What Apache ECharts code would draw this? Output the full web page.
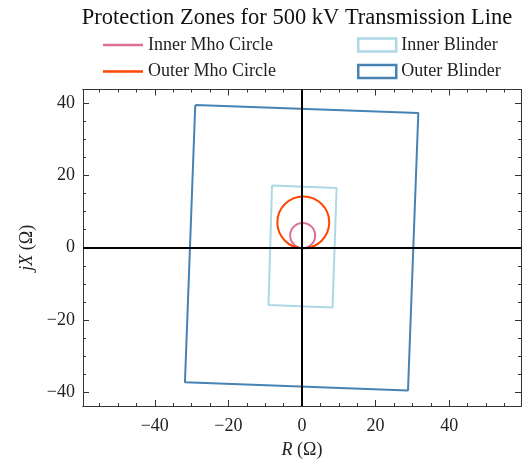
<!DOCTYPE html>
<html>
<head>
<meta charset="utf-8">
<script src="https://cdn.jsdelivr.net/npm/echarts@6/dist/echarts.min.js"></script>
<style>
  html, body { margin: 0; padding: 0; background: #fff; }
  #chart { width: 531px; height: 464px; }
</style>
</head>
<body>
<div id="chart"></div>
<script>
// Mho circles: [centerR, centerX, radius] in ohms (each passes through the origin)
const innerMho = [0.18, 3.4, 3.4];
const outerMho = [0.35, 7.05, 7.05];

// Blinder quadrilaterals, corners in ohms (closed loop)
const innerBlinder = [[-8.15, 17.3], [9.4, 16.6], [8.3, -16.6], [-9.1, -15.9], [-8.15, 17.3]];
const outerBlinder = [[-29.0, 39.6], [31.6, 37.4], [28.8, -39.6], [-31.8, -37.3], [-29.0, 39.6]];

// Axis ticks
const majorTicks = [-40, -20, 0, 20, 40];
const minorTicksX = [-55, -50, -45, -35, -30, -25, -15, -10, -5, 5, 10, 15, 25, 30, 35, 45, 50, 55];
const minorTicksY = [-35, -30, -25, -15, -10, -5, 5, 10, 15, 25, 30, 35];

const xRange = [-59.5, 59.5];
const yRange = [-43.9, 43.9];

const FONT = "'Liberation Serif', 'DejaVu Serif', serif";
const FRAME = '#333';
const COLORS = {
  innerMho: '#db7093',
  outerMho: '#ff4500',
  innerBlinder: '#add8e6',
  outerBlinder: '#4682b4'
};

const chart = echarts.init(document.getElementById('chart'), null, { renderer: 'canvas' });

function minus(v) { return String(v).replace('-', '\u2212'); }

function axisSet(pos, range, ticks, len, withLabels, name) {
  const a = {
    type: 'value',
    position: pos,
    min: range[0],
    max: range[1],
    splitLine: { show: false },
    axisLine: { show: true, onZero: false, lineStyle: { color: FRAME, width: 1 } },
    axisTick: { show: true, inside: true, length: len, customValues: ticks, lineStyle: { color: FRAME, width: 1 } },
    axisLabel: withLabels ? {
      show: true, customValues: majorTicks, formatter: minus, margin: pos === 'bottom' ? 11 : 8,
      fontFamily: FONT, fontSize: 18, color: '#222'
    } : { show: false }
  };
  if (name) Object.assign(a, name);
  return a;
}

function circleSeries(name, c, color) {
  return {
    name: name,
    type: 'custom',
    xAxisIndex: 0, yAxisIndex: 0,
    data: [c],
    itemStyle: { color: color },
    z: 4,
    renderItem: function (params, api) {
      const p = api.coord([api.value(0), api.value(1)]);
      const r = api.size([api.value(2), 0])[0];
      return {
        type: 'circle',
        shape: { cx: p[0], cy: p[1], r: r },
        style: { fill: 'none', stroke: color, lineWidth: 2 }
      };
    }
  };
}

function blinderSeries(name, pts, color) {
  return {
    name: name,
    type: 'line',
    xAxisIndex: 0, yAxisIndex: 0,
    data: pts,
    symbol: 'none',
    z: 3,
    itemStyle: { color: color },
    lineStyle: { color: color, width: 2 }
  };
}

const option = {
  animation: false,
  backgroundColor: '#fff',
  title: {
    text: 'Protection Zones for 500 kV Transmission Line',
    left: 292, top: 2, textAlign: 'center',
    textStyle: { fontFamily: FONT, fontSize: 22.5, fontWeight: 'normal', color: '#111' }
  },
  legend: [
    {
      orient: 'vertical', left: 98, top: 30, itemGap: 6.4,
      itemWidth: 40, itemHeight: 2.5, icon: 'rect',
      textStyle: { fontFamily: FONT, fontSize: 18, color: '#222', lineHeight: 20 },
      data: [
        { name: 'Inner Mho Circle', itemStyle: { color: COLORS.innerMho } },
        { name: 'Outer Mho Circle', itemStyle: { color: COLORS.outerMho } }
      ]
    },
    {
      orient: 'vertical', left: 352, top: 30, itemGap: 6.4,
      itemWidth: 38, itemHeight: 13,
      textStyle: { fontFamily: FONT, fontSize: 18, color: '#222', lineHeight: 20 },
      data: [
        { name: 'Inner Blinder', icon: 'rect', itemStyle: { color: 'rgba(0,0,0,0)', borderColor: COLORS.innerBlinder, borderWidth: 2.5 } },
        { name: 'Outer Blinder', icon: 'rect', itemStyle: { color: 'rgba(0,0,0,0)', borderColor: COLORS.outerBlinder, borderWidth: 2.5 } }
      ]
    }
  ],
  grid: { left: 83, right: 10, top: 89.5, bottom: 51.3, containLabel: false },
  xAxis: [
    axisSet('bottom', xRange, majorTicks, 6, true, {
      name: '{i|R} (Ω)', nameLocation: 'middle', nameGap: 35,
      nameTextStyle: { fontFamily: FONT, fontSize: 18, color: '#222',
        rich: { i: { fontFamily: FONT, fontSize: 18, fontStyle: 'italic', color: '#222' } } }
    }),
    axisSet('bottom', xRange, minorTicksX, 3, false),
    axisSet('top', xRange, majorTicks, 6, false),
    axisSet('top', xRange, minorTicksX, 3, false)
  ],
  yAxis: [
    axisSet('left', yRange, majorTicks, 6, true, {
      name: '{i|jX} (Ω)', nameLocation: 'middle', nameGap: 46,
      nameTextStyle: { fontFamily: FONT, fontSize: 18, color: '#222',
        rich: { i: { fontFamily: FONT, fontSize: 18, fontStyle: 'italic', color: '#222' } } }
    }),
    axisSet('left', yRange, minorTicksY, 3, false),
    axisSet('right', yRange, majorTicks, 6, false),
    axisSet('right', yRange, minorTicksY, 3, false)
  ],
  series: [
    blinderSeries('Inner Blinder', innerBlinder, COLORS.innerBlinder),
    blinderSeries('Outer Blinder', outerBlinder, COLORS.outerBlinder),
    circleSeries('Inner Mho Circle', innerMho, COLORS.innerMho),
    circleSeries('Outer Mho Circle', outerMho, COLORS.outerMho),
    {
      name: 'zero-lines',
      type: 'line',
      data: [],
      z: 6,
      markLine: {
        silent: true,
        symbol: 'none',
        animation: false,
        label: { show: false },
        lineStyle: { color: '#000', width: 2, type: 'solid' },
        data: [{ xAxis: 0 }, { yAxis: 0 }]
      }
    }
  ]
};

chart.setOption(option);
</script>
</body>
</html>
